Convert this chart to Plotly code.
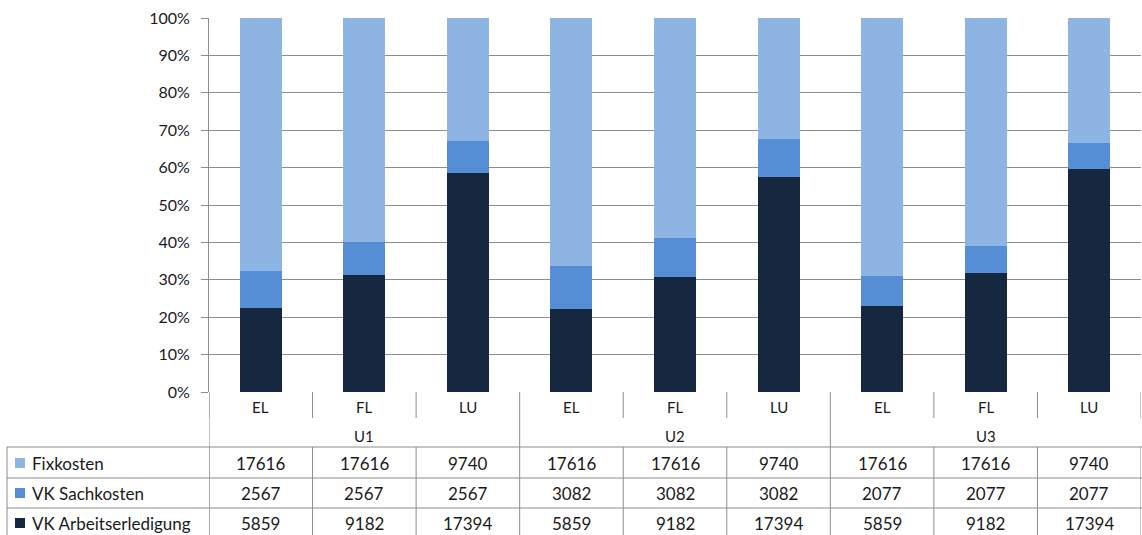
import plotly.graph_objects as go

# Cost data per method (EL/FL/LU) within each scenario (U1..U3)
groups = ["U1", "U2", "U3"]
methods = ["EL", "FL", "LU"]
series_names = ["VK Arbeitserledigung", "VK Sachkosten", "Fixkosten"]
arbeitserledigung = [5859, 9182, 17394, 5859, 9182, 17394, 5859, 9182, 17394]
sachkosten = [2567, 2567, 2567, 3082, 3082, 3082, 2077, 2077, 2077]
fixkosten = [17616, 17616, 9740, 17616, 17616, 9740, 17616, 17616, 9740]
y_ticks = [0, 10, 20, 30, 40, 50, 60, 70, 80, 90, 100]

colors = {
    "VK Arbeitserledigung": "#15283f",
    "VK Sachkosten": "#558ed5",
    "Fixkosten": "#8eb4e3",
}
values = {
    "VK Arbeitserledigung": arbeitserledigung,
    "VK Sachkosten": sachkosten,
    "Fixkosten": fixkosten,
}

W, H = 1142, 535
ML, MR, MT, MB = 209, 1, 18, 143
PW, PH = W - ML - MR, H - MT - MB
FONT = "Lato, Open Sans, sans-serif"
GRID = "#8c8c8c"
TXT = "#1a1a1a"

n = len(groups) * len(methods)
xs = list(range(n))

fig = go.Figure()
for name in series_names:
    fig.add_trace(go.Bar(
        x=xs, y=values[name], name=name,
        marker=dict(color=colors[name], line=dict(width=0)),
        width=0.405, showlegend=False,
    ))


def py(pix):
    """Convert a pixel row to paper y."""
    return (H - MB - pix) / PH


def px(pix):
    """Convert a pixel column to paper x."""
    return (pix - ML) / PW


shapes = []
annotations = []


def vline(x, y0, y1, xref="x"):
    shapes.append(dict(type="line", xref=xref, yref="paper", x0=x, x1=x,
                       y0=py(y0), y1=py(y1), line=dict(color=GRID, width=1)))


def hline(x0, x1, y):
    shapes.append(dict(type="line", xref="paper", yref="paper", x0=px(x0), x1=px(x1),
                       y0=py(y), y1=py(y), line=dict(color=GRID, width=1)))


def label(x, y, text, size, xref="x", xanchor="center"):
    annotations.append(dict(x=x, y=y, xref=xref, yref="paper", text=text,
                            xanchor=xanchor, yanchor="middle", showarrow=False,
                            font=dict(family=FONT, size=size, color=TXT)))


# category row / group row separators
for i in range(n + 1):
    b = i - 0.5
    if i % 3 == 0 and 0 < i < n:
        vline(b, 392, H)
    else:
        vline(b, 392, 418)
        vline(b, 447, H)
vline(-0.5, 392, H)
vline(px(7), 447, H, xref="paper")
for yy in (447, 478, 508):
    hline(7, W, yy)

# category and group labels
for i, x in enumerate(xs):
    label(x, py(407), methods[i % 3], 15)
for g, name in enumerate(groups):
    label(g * 3 + 1, py(436), name, 15)

# data table rows
row_order = ["Fixkosten", "VK Sachkosten", "VK Arbeitserledigung"]
row_centers = [463, 493, 523]
for name, yc in zip(row_order, row_centers):
    shapes.append(dict(type="rect", xref="paper", yref="paper",
                       x0=px(15), x1=px(25), y0=py(yc - 5), y1=py(yc + 5),
                       fillcolor=colors[name], line=dict(width=0)))
    label(px(30), py(yc), name, 17, xref="paper", xanchor="left")
    for x, v in zip(xs, values[name]):
        label(x, py(yc), str(v), 17)

fig.update_layout(
    width=W, height=H,
    margin=dict(l=ML, r=MR, t=MT, b=MB, pad=0),
    barmode="stack", barnorm="percent",
    plot_bgcolor="white", paper_bgcolor="white",
    shapes=shapes, annotations=annotations,
    xaxis=dict(range=[-0.5, n - 0.5], showticklabels=False, showgrid=False,
               zeroline=False, showline=False, ticks=""),
    yaxis=dict(range=[0, 100], tickvals=y_ticks, ticktext=[f"{t}%" for t in y_ticks],
               showgrid=True, gridcolor=GRID, gridwidth=1, zeroline=False,
               showline=True, linecolor=GRID, linewidth=1,
               ticks="outside", ticklen=7, tickcolor=GRID, ticklabelstandoff=8,
               tickfont=dict(family=FONT, size=16, color=TXT)),
    font=dict(family=FONT),
)

fig.write_html("out.html")
